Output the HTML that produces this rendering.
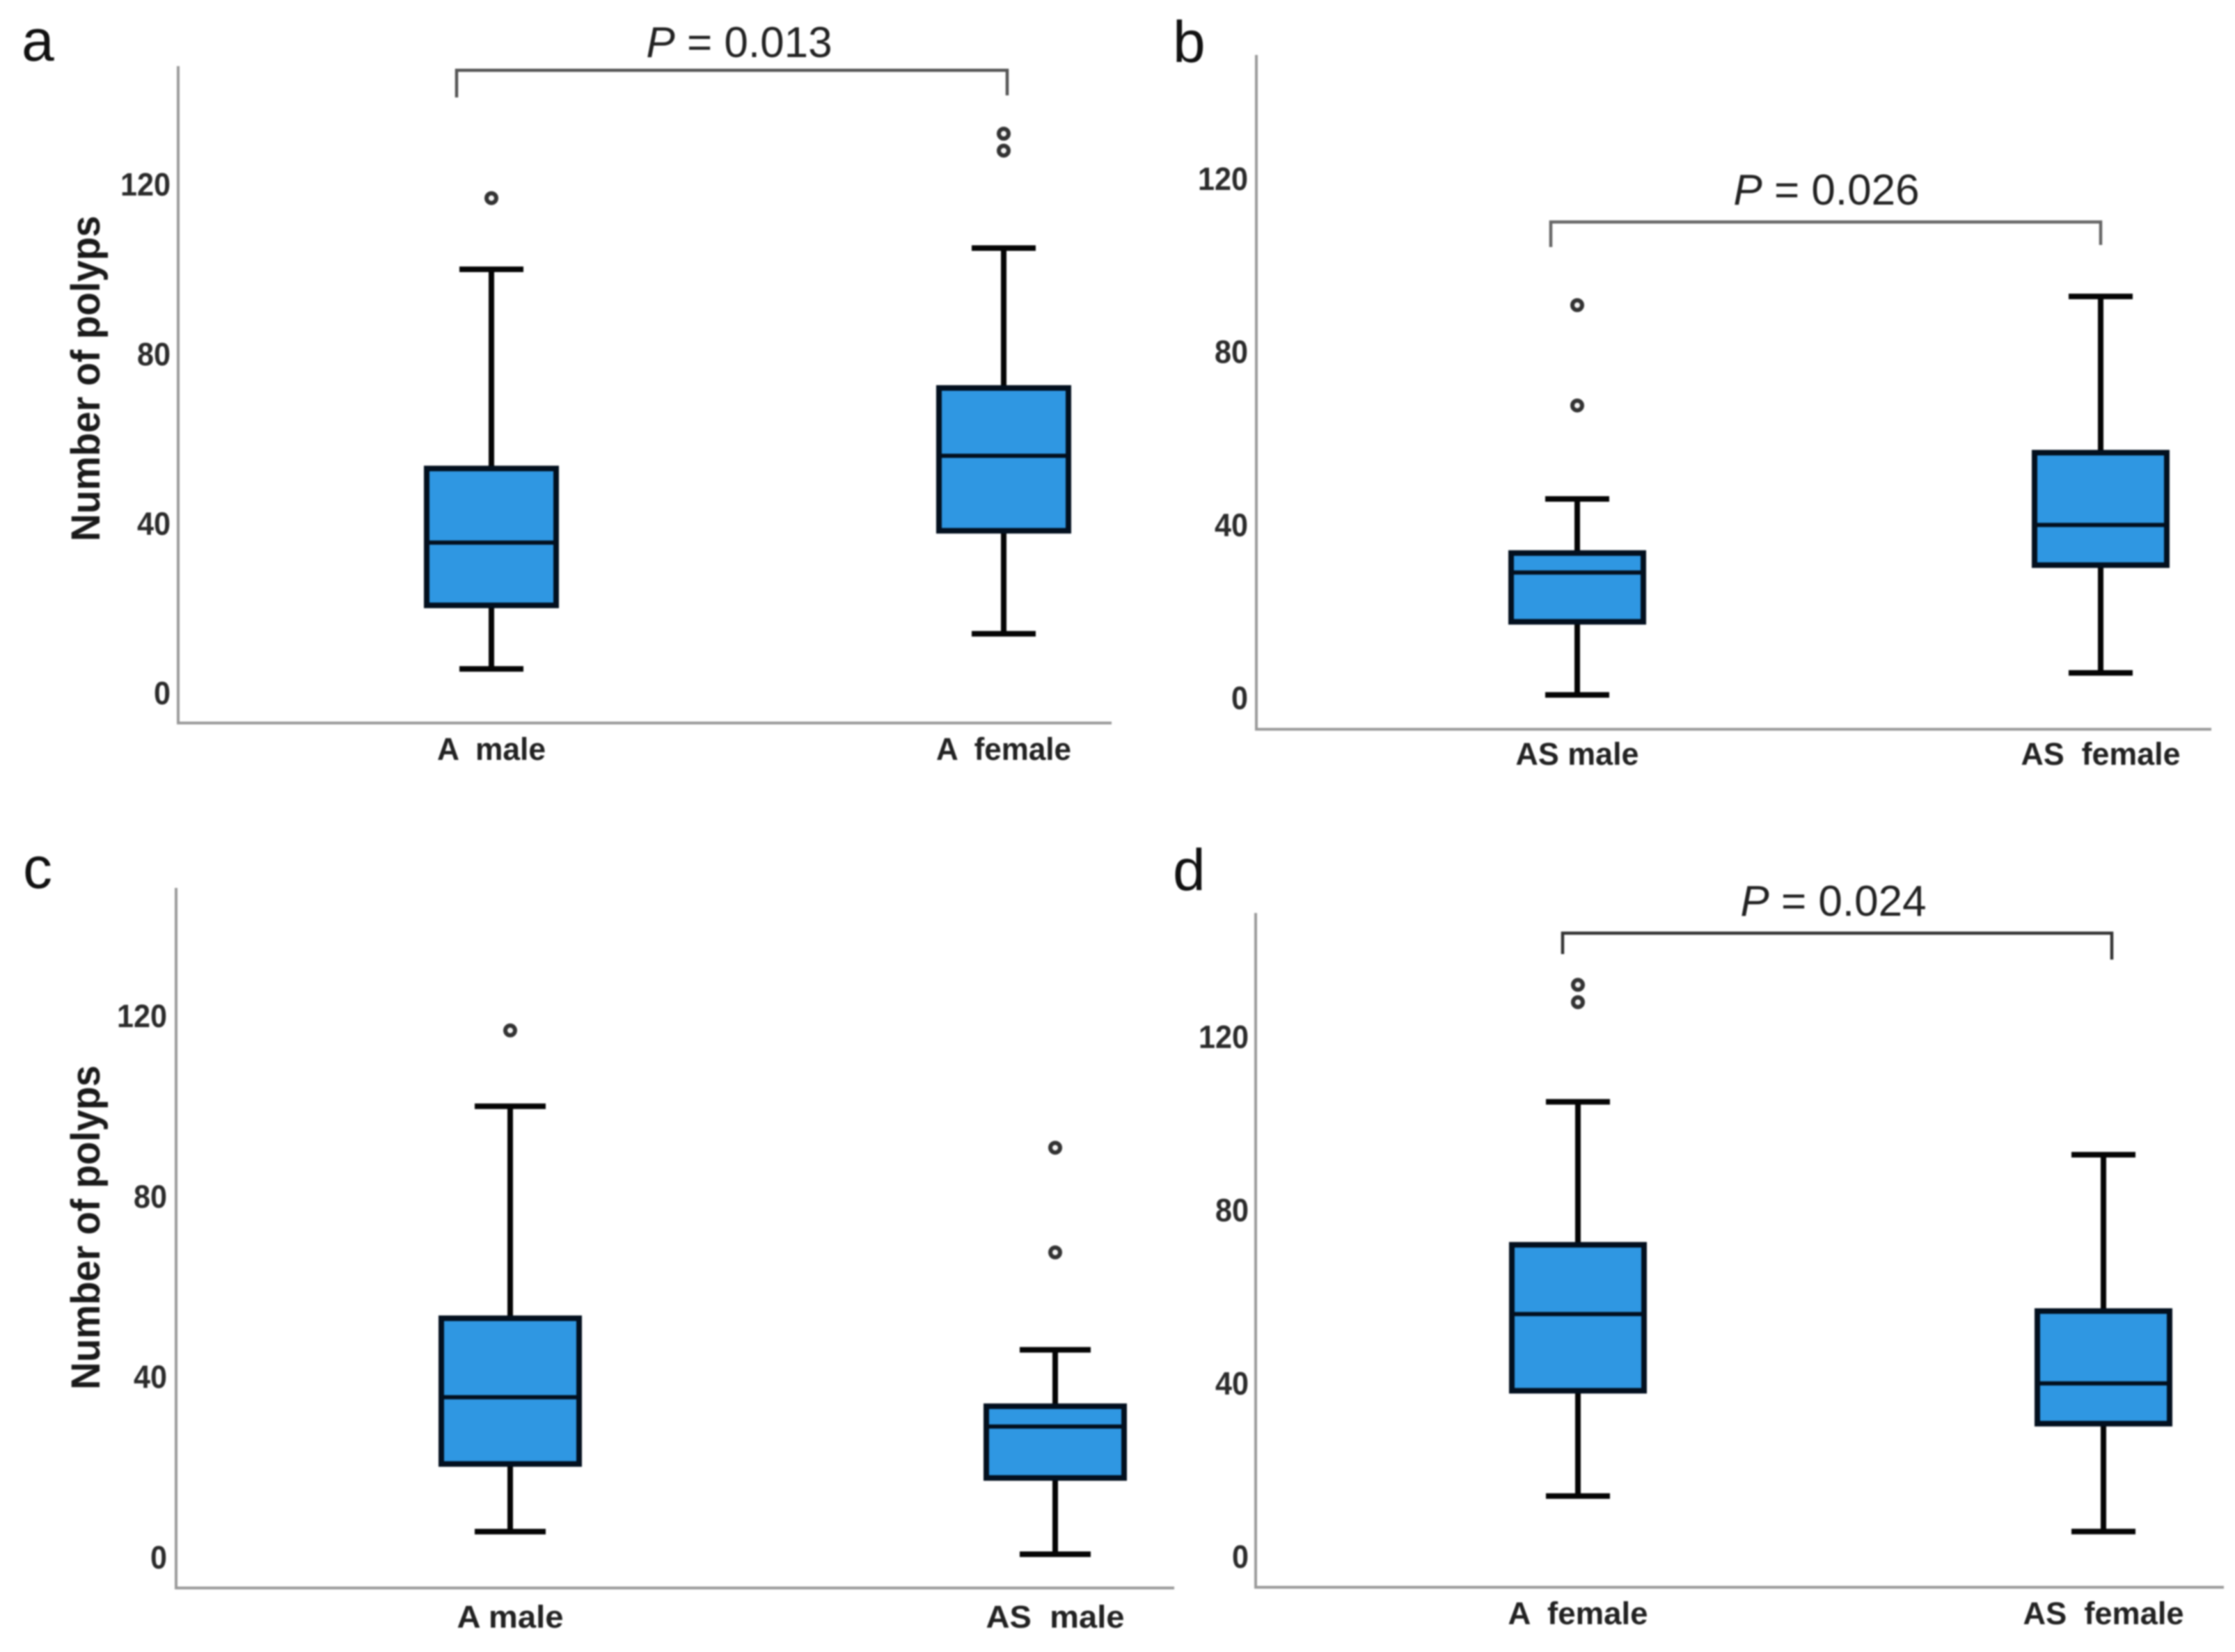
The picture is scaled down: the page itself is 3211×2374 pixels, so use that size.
<!DOCTYPE html>
<html lang="en">
<head>
<meta charset="utf-8">
<title>Number of polyps box plots</title>
<style>
html,body{margin:0;padding:0;background:#fff;}
#figure{display:block;width:3211px;height:2374px;filter:blur(1.1px);font-family:"Liberation Sans",sans-serif;}
text{white-space:pre;}
</style>
</head>
<body>
<svg id="figure" xmlns="http://www.w3.org/2000/svg" width="3211" height="2374" viewBox="0 0 3211 2374"></svg>
<script>
// ---- Data: [low whisker, Q1, median, Q3, high whisker] ----
const aMaleBox = [5.7, 20.7, 35.5, 53, 100];
const aFemaleBox = [14, 38.3, 56, 72, 105];
const asMaleBox = [0.7, 17.6, 29, 33.5, 46];
const asFemaleBox = [5.8, 30.7, 40, 56.7, 92.8];
const aMaleOutliers = [116.8];
const aFemaleOutliers = [128, 132];
const asMaleOutliers = [67.6, 90.8];
const asFemaleOutliers = [];
const yTicks = [0, 40, 80, 120];
const pValues = ["0.013", "0.026", "", "0.024"];
const panelLetters = ["a", "b", "c", "d"];

const groupA = {key: "a-male", box: aMaleBox, outliers: aMaleOutliers};
const groupB = {key: "a-female", box: aFemaleBox, outliers: aFemaleOutliers};
const groupC = {key: "as-male", box: asMaleBox, outliers: asMaleOutliers};
const groupD = {key: "as-female", box: asFemaleBox, outliers: asFemaleOutliers};

// ---- Layout of each panel ----
const panels = [
  {letter: 0, lx: 31, ly: 87, axisX: 256, top: 95, base: 1039, right: 1597, y0: 996, unit: 6.09, tickR: 245,
   titleX: 143, titleC: 544, titleL: 468, boxH: 93, capH: 46, labelY: 1092,
   items: [{g: groupA, x: 706, label: "A  male", w: 156}, {g: groupB, x: 1442, label: "A  female", w: 194}],
   bracket: {x1: 656, x2: 1447, y: 101, d1: 140, d2: 137, color: "#555", p: 0, tx: 1062, ty: 82}},
  {letter: 1, lx: 1685, ly: 89, axisX: 1805, top: 79, base: 1048, right: 3177, y0: 1003, unit: 6.217, tickR: 1793,
   boxH: 95, capH: 46, labelY: 1099,
   items: [{g: groupC, x: 2266, label: "AS male", w: 177}, {g: groupD, x: 3018, label: "AS  female", w: 229}],
   bracket: {x1: 2228, x2: 3018, y: 319, d1: 355, d2: 352, color: "#666", p: 1, tx: 2624, ty: 294}},
  {letter: 2, lx: 33, ly: 1276, axisX: 253, top: 1276, base: 2282, right: 1687, y0: 2238, unit: 6.483, tickR: 240,
   titleX: 143, titleC: 1764, titleL: 466, boxH: 99, capH: 51, labelY: 2339,
   items: [{g: groupA, x: 733, label: "A male", w: 153}, {g: groupC, x: 1516, label: "AS  male", w: 199}]},
  {letter: 3, lx: 1685, ly: 1279, axisX: 1804, top: 1312, base: 2281, right: 3195, y0: 2237, unit: 6.225, tickR: 1794,
   boxH: 95, capH: 46, labelY: 2334,
   items: [{g: groupB, x: 2267, label: "A  female", w: 201}, {g: groupD, x: 3022, label: "AS  female", w: 231}],
   bracket: {x1: 2245, x2: 3034, y: 1341, d1: 1371, d2: 1379, color: "#333", p: 3, tx: 2634, ty: 1316}}
];

const NS = "http://www.w3.org/2000/svg";
const svg = document.getElementById("figure");

function mk(parent, tag, attrs, name, text) {
  const el = document.createElementNS(NS, tag);
  for (const k in attrs) { el.setAttribute(k, attrs[k]); }
  
  
  if (text !== undefined) { el.textContent = text; }
  parent.appendChild(el);
  return el;
}

panels.forEach(function (p) {
  const letter = panelLetters[p.letter];
  const y = function (v) { return p.y0 - v * p.unit; };
  const g = mk(svg, "g", {}, "panel-" + letter);

  mk(g, "text", {x: p.lx, y: p.ly, "font-size": 84, fill: "#111"}, "panel-label-" + letter, letter);

  // axes
  mk(g, "line", {x1: p.axisX, y1: p.top, x2: p.axisX, y2: p.base + 2, stroke: "#9a9a9a", "stroke-width": 4}, "y-axis-line");
  mk(g, "line", {x1: p.axisX, y1: p.base, x2: p.right, y2: p.base, stroke: "#9a9a9a", "stroke-width": 4}, "x-axis-line");

  // y tick labels
  yTicks.forEach(function (t) {
    const s = String(t);
    mk(g, "text", {x: p.tickR, y: y(t) + 16, "text-anchor": "end", "font-size": 46, "font-weight": "bold", fill: "#2b2b2b",
      textLength: s.length * 24, lengthAdjust: "spacingAndGlyphs"}, "y-tick-label-" + s, s);
  });

  // y axis title
  if (p.titleX) {
    mk(g, "text", {transform: "translate(" + p.titleX + "," + p.titleC + ") rotate(-90)", "text-anchor": "middle",
      "font-weight": "bold", "font-size": 58, fill: "#1a1a1a",
      textLength: p.titleL, lengthAdjust: "spacingAndGlyphs"}, "y-axis-title", "Number of polyps");
  }

  // boxes
  p.items.forEach(function (it) {
    const b = it.g.box, x = it.x;
    const bg = mk(g, "g", {}, "box-" + it.g.key);
    mk(bg, "line", {x1: x, x2: x, y1: y(b[4]), y2: y(b[3]), stroke: "#050505", "stroke-width": 8}, "upper-whisker");
    mk(bg, "line", {x1: x, x2: x, y1: y(b[1]), y2: y(b[0]), stroke: "#050505", "stroke-width": 8}, "lower-whisker");
    mk(bg, "line", {x1: x - p.capH, x2: x + p.capH, y1: y(b[4]), y2: y(b[4]), stroke: "#050505", "stroke-width": 8}, "upper-whisker-cap");
    mk(bg, "line", {x1: x - p.capH, x2: x + p.capH, y1: y(b[0]), y2: y(b[0]), stroke: "#050505", "stroke-width": 8}, "lower-whisker-cap");
    mk(bg, "rect", {x: x - p.boxH, y: y(b[3]), width: 2 * p.boxH, height: y(b[1]) - y(b[3]), fill: "#2f97e2", stroke: "#03101f", "stroke-width": 8}, "interquartile-box");
    mk(bg, "line", {x1: x - p.boxH, x2: x + p.boxH, y1: y(b[2]), y2: y(b[2]), stroke: "#03101f", "stroke-width": 6}, "median-line");
    it.g.outliers.forEach(function (o) {
      mk(bg, "circle", {cx: x, cy: y(o), r: 7, fill: "#f4f4f4", stroke: "#333", "stroke-width": 6}, "outlier-point");
    });
    mk(g, "text", {x: x, y: p.labelY, "text-anchor": "middle", "font-size": 45, "font-weight": "bold", fill: "#222",
      textLength: it.w, lengthAdjust: "spacingAndGlyphs"}, "x-category-label-" + it.g.key, it.label);
  });

  // significance bracket
  if (p.bracket) {
    const br = p.bracket;
    mk(g, "path", {d: "M" + br.x1 + " " + br.d1 + "V" + br.y + "H" + br.x2 + "V" + br.d2, fill: "none", stroke: br.color, "stroke-width": 4.5}, "significance-bracket");
    const t = mk(g, "text", {x: br.tx, y: br.ty, "text-anchor": "middle", "font-size": 62, fill: "#222"}, "p-value-label");
    const ital = document.createElementNS(NS, "tspan");
    ital.setAttribute("font-style", "italic");
    ital.textContent = "P";
    t.appendChild(ital);
    t.appendChild(document.createTextNode(" = " + pValues[br.p]));
  }
});
</script>
</body>
</html>
